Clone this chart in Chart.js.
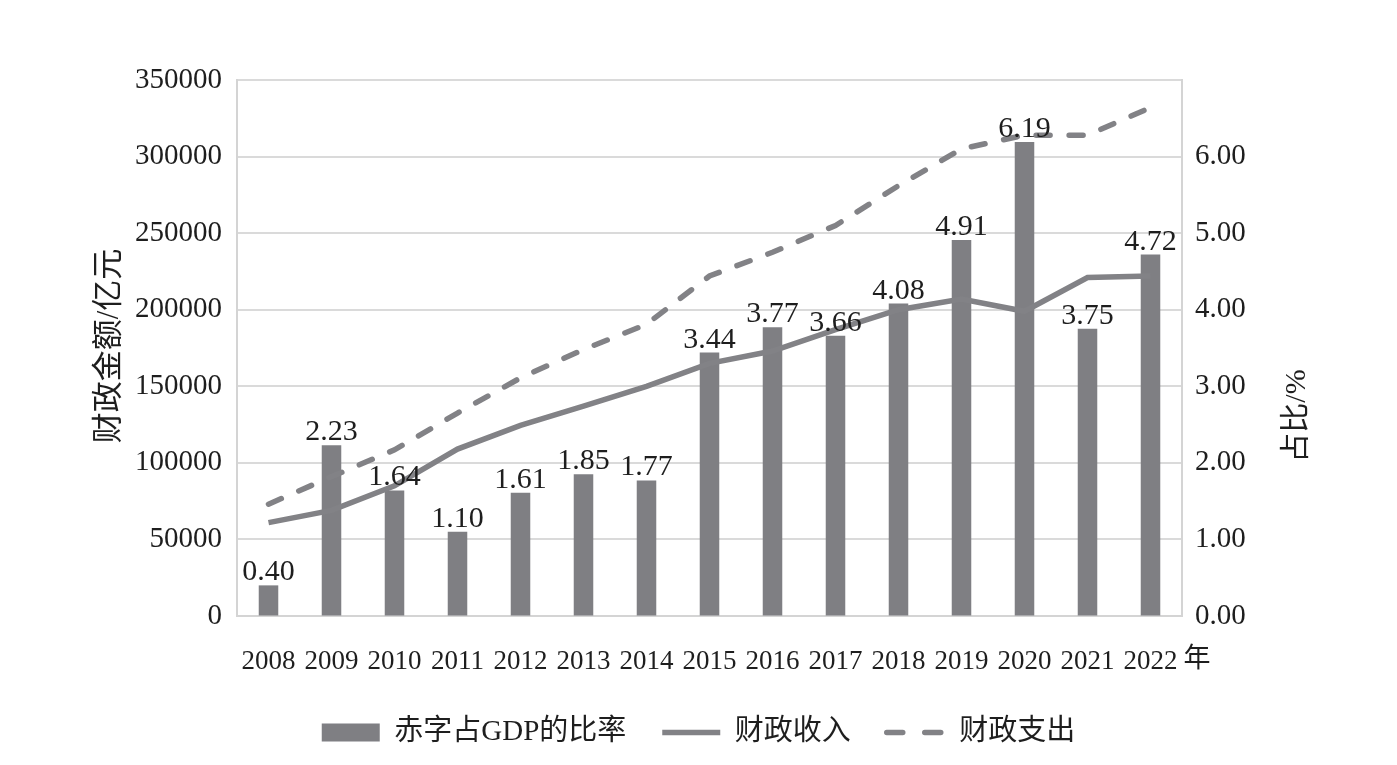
<!DOCTYPE html>
<html>
<head>
<meta charset="utf-8">
<script src="https://cdn.jsdelivr.net/npm/chart.js@4"></script>
<style>
  html, body { margin: 0; padding: 0; background: #fff; }
  #wrap { width: 1397px; height: 765px; }
</style>
</head>
<body>
<div id="wrap"><canvas id="my-chart" width="1397" height="765"></canvas></div>
<script>
// Data
const years = ["2008", "2009", "2010", "2011", "2012", "2013", "2014", "2015",
               "2016", "2017", "2018", "2019", "2020", "2021", "2022"];
// 赤字占GDP的比率 (%), right axis
const deficitRatio = [0.40, 2.23, 1.64, 1.10, 1.61, 1.85, 1.77, 3.44, 3.77, 3.66, 4.08, 4.91, 6.19, 3.75, 4.72];
// 财政收入 (亿元), left axis
const revenue = [61000, 69000, 85000, 109000, 124500, 137000, 150000, 165000, 173000, 187000, 200000, 207000, 199000, 221000, 222000];
// 财政支出 (亿元), left axis
const expenditure = [73000, 91000, 108500, 132500, 155500, 174000, 190500, 222000, 237500, 255000, 281000, 305000, 314000, 314000, 332000];

const gray = "#7f7f83";
const lineGray = "#828286";
const textColor = "#1e1e1e";
const fontFamily = "'Liberation Serif', 'Noto Sans CJK SC', serif";

// Titles, the 年 unit and value labels on the bars
const extras = {
  id: "extras",
  afterDatasetsDraw(chart) {
    const ctx = chart.ctx;
    const meta = chart.getDatasetMeta(0);
    ctx.save();
    ctx.fillStyle = textColor;
    ctx.font = "30px " + fontFamily;
    ctx.textAlign = "center";
    ctx.textBaseline = "alphabetic";
    meta.data.forEach((bar, i) => {
      ctx.fillText(deficitRatio[i].toFixed(2), bar.x, bar.y - 5);
    });
    ctx.restore();
  },
  afterDraw(chart) {
    const ctx = chart.ctx;
    const area = chart.chartArea;
    ctx.save();
    ctx.fillStyle = textColor;
    ctx.font = "31px " + fontFamily;
    ctx.textAlign = "center";
    ctx.textBaseline = "middle";
    // left axis title
    ctx.save();
    ctx.translate(110, (area.top + area.bottom) / 2 - 2);
    ctx.rotate(-Math.PI / 2);
    ctx.fillText("财政金额/亿元", 0, 0);
    ctx.restore();
    // right axis title
    ctx.save();
    ctx.translate(1297, 416);
    ctx.rotate(-Math.PI / 2);
    ctx.font = "30px " + fontFamily;
    ctx.fillText("占比/%", 0, 0);
    ctx.restore();
    // unit after the last year
    ctx.font = "27px " + fontFamily;
    ctx.fillText("年", area.right + 15, 660);
    ctx.restore();
  }
};

const ctx = document.getElementById("my-chart").getContext("2d");

const myChart = new Chart(ctx, {
  type: "bar",
  data: {
    labels: years,
    datasets: [
      {
        label: "赤字占GDP的比率",
        data: deficitRatio,
        yAxisID: "y1",
        backgroundColor: gray,
        borderWidth: 0,
        categoryPercentage: 1,
        barPercentage: 0.31,
        pointStyle: "rect",
        order: 3
      },
      {
        type: "line",
        label: "财政收入",
        data: revenue,
        yAxisID: "y",
        borderColor: lineGray,
        backgroundColor: lineGray,
        borderWidth: 5.5,
        pointRadius: 0,
        pointStyle: "line",
        tension: 0,
        fill: false,
        order: 1
      },
      {
        type: "line",
        label: "财政支出",
        data: expenditure,
        yAxisID: "y",
        borderColor: lineGray,
        backgroundColor: lineGray,
        borderWidth: 5.5,
        borderDash: [14, 19],
        borderCapStyle: "round",
        pointRadius: 0,
        pointStyle: "line",
        tension: 0,
        fill: false,
        order: 2
      }
    ]
  },
  options: {
    responsive: false,
    animation: false,
    maintainAspectRatio: false,
    layout: { padding: { top: 80, bottom: 8, left: 0, right: 0 } },
    plugins: {
      tooltip: { enabled: false },
      legend: {
        position: "bottom",
        labels: {
          usePointStyle: true,
          pointStyleWidth: 58,
          boxWidth: 58,
          boxHeight: 18,
          padding: 36,
          color: textColor,
          font: { family: fontFamily, size: 29 },
          sort: (a, b) => a.datasetIndex - b.datasetIndex,
          generateLabels: (chart) => {
            const items = Chart.defaults.plugins.legend.labels.generateLabels(chart);
            items.forEach((item) => {
              const ds = chart.data.datasets[item.datasetIndex];
              if (ds.type === "line") {
                item.lineDash = ds.borderDash ? [16, 22] : [];
                item.lineCap = ds.borderDash ? "round" : "butt";
                item.lineWidth = 5.5;
              }
            });
            return items;
          }
        }
      }
    },
    scales: {
      x: {
        grid: { display: false },
        border: { display: true, color: "#d4d4d4", width: 2 },
        ticks: {
          color: textColor,
          font: { family: fontFamily, size: 27 },
          padding: 22,
          maxRotation: 0,
          autoSkip: false
        },
        afterFit: (scale) => { scale.height = 66; }
      },
      y: {
        position: "left",
        min: 0,
        max: 350000,
        ticks: {
          stepSize: 50000,
          color: textColor,
          font: { family: fontFamily, size: 29 },
          padding: 15,
          callback: (v) => String(v)
        },
        grid: { color: "#dadada", lineWidth: 2, drawTicks: false },
        border: { display: true, color: "#d4d4d4", width: 2 },
        afterFit: (scale) => { scale.width = 237; }
      },
      y1: {
        position: "right",
        min: 0,
        max: 7,
        ticks: {
          stepSize: 1,
          color: textColor,
          font: { family: fontFamily, size: 29 },
          padding: 13,
          callback: (v) => (v >= 7 ? "" : v.toFixed(2))
        },
        grid: { drawOnChartArea: false, drawTicks: false },
        border: { display: true, color: "#d4d4d4", width: 2 },
        afterFit: (scale) => { scale.width = 215; }
      }
    }
  },
  plugins: [extras]
});
</script>
</body>
</html>
